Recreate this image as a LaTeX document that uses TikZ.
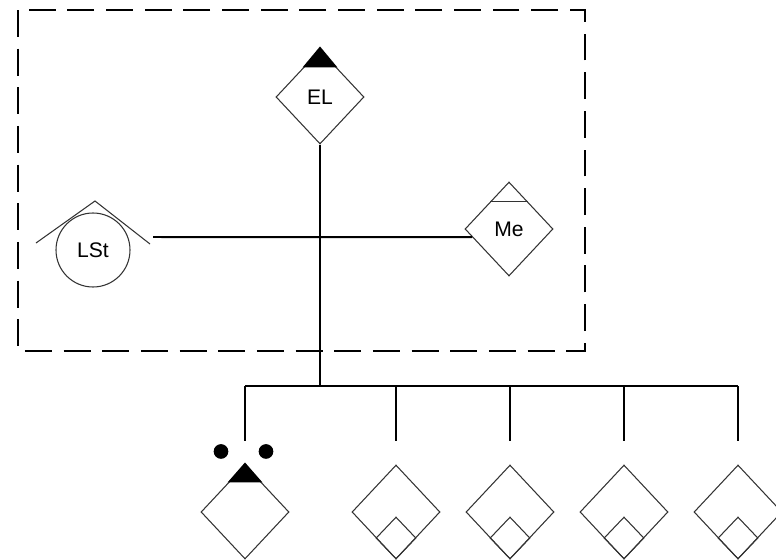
\documentclass[tikz,border=0pt]{standalone}
\usepackage{fontspec}
\setmainfont{Liberation Sans}
\usetikzlibrary{shapes.geometric,calc}

\begin{document}
\begin{tikzpicture}[x=0.03cm, y=-0.03cm,
  link/.style={line width=1.7pt},
  outline/.style={draw=black!80, line width=0.9pt},
  indiv/.style={outline, diamond, inner sep=0pt, minimum width=2.64cm, minimum height=2.82cm, font=\fontsize{18}{21}\selectfont},
  female/.style={outline, circle, inner sep=0pt, minimum size=2.22cm, font=\fontsize{18}{21}\selectfont},
  mini/.style={outline, diamond, inner sep=0pt, minimum width=1.2cm, minimum height=1.26cm, anchor=south},
  frame/.style={line width=1.7pt, dash pattern=on 23pt off 10pt}]
  \useasboundingbox (0,0) rectangle (776,560);

  % household
  \draw[frame] (18,10) rectangle (585,351);
  \node[indiv] (EL) at (320,97) {EL};
  \fill ($(EL.north)+(0,-3)$) -- ($(EL.north)+(-17.5,18)$) -- ($(EL.north)+(17.5,18)$) -- cycle;
  \node[indiv] (Me) at (509,229) {Me};
  \draw[outline] ($(Me.north)!0.42!(Me.west)$) -- ($(Me.north)!0.42!(Me.east)$);
  \node[female] (LSt) at (93,250) {LSt};
  \draw[outline] ($(LSt)+(-57,-7)$) -- ($(LSt)+(2,-49)$) -- ($(LSt)+(57,-6)$);

  \coordinate (Lk) at (153,237);
  \coordinate (bus) at (320,386);
  \draw[link] (Lk) -- ($(Me.west)!0.17!(Me.south)$);
  \draw[link] (EL.south) -- (EL |- bus);

  % children
  \foreach \n/\x in {c1/245, c2/396, c3/510, c4/624, c5/738} {
    \node[indiv] (\n) at (\x,512) {};
    \draw[link] (\n.north |- bus) -- ($(\n.north)+(0,-23)$);
  }
  \draw[link] (c1.north |- bus) -- (c5.north |- bus);
  \foreach \n in {c2,c3,c4,c5}
    \node[mini] (\n m) at (\n.south) {};
  \fill ($(c1.north)+(0,-2)$) -- ($(c1.north)+(-17.5,18)$) -- ($(c1.north)+(17.5,18)$) -- cycle;
  \fill ($(c1.north)+(-24,-13)$) circle[radius=0.22cm];
  \fill ($(c1.north)+(21,-13)$) circle[radius=0.22cm];
\end{tikzpicture}
\end{document}
